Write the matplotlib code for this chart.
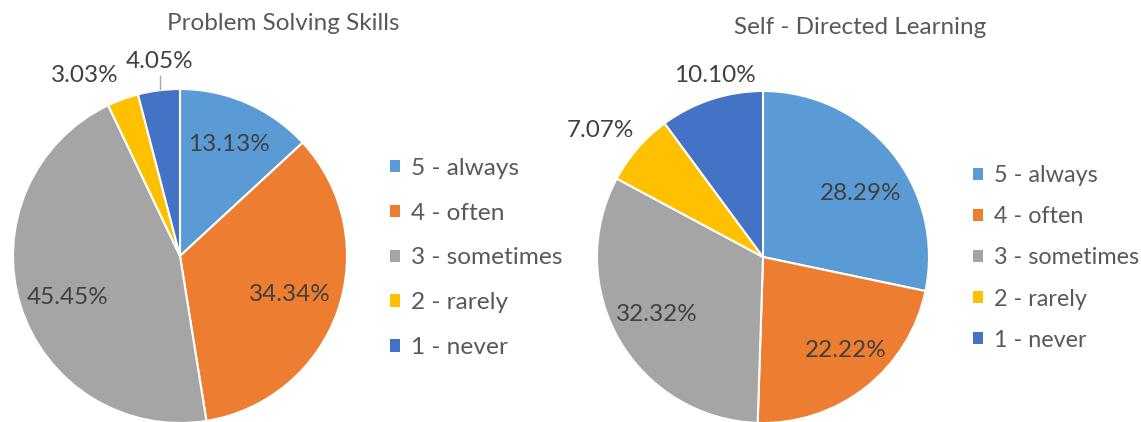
import numpy as np
import matplotlib
matplotlib.use("Agg")
import matplotlib.pyplot as plt
from matplotlib.patches import Patch

plt.rcParams['font.family'] = ['Lato', 'DejaVu Sans']

categories = ["5 - always", "4 - often", "3 - sometimes", "2 - rarely", "1 - never"]
problem_solving = [13.13, 34.34, 45.45, 3.03, 4.05]
self_directed = [28.29, 22.22, 32.32, 7.07, 10.10]
titles = ["Problem Solving Skills", "Self - Directed Learning"]
colors = ["#5B9BD5", "#ED7D31", "#A5A5A5", "#FFC000", "#4472C4"]

W, H = 1141, 422
fig = plt.figure(figsize=(W / 100, H / 100), dpi=100)

LABEL_C = "#404040"
TEXT_C = "#595959"

# layout (pixels): centre x, centre y, radius
pies = [
    dict(cx=180, cy=256, r=167,
         lab_r=[0.73, 0.70, 0.72, 1.22, 1.17],
         lab_da=[-0.2, -0.4, 3.1, 7.7, -1.4],
         title_xy=(283, 24),
         leg_xy=(390, 258), leg_fs=17.6, leg_sp=0.98, leader=4),
    dict(cx=763, cy=257, r=166,
         lab_r=[0.70, 0.75, 0.73, 1.24, 1.13],
         lab_da=[-6.1, 3.2, -1.5, 2.9, -3.4],
         title_xy=(860, 27),
         leg_xy=(973, 258), leg_fs=16.8, leg_sp=0.86, leader=None),
]

for vals, cfg, title in zip([problem_solving, self_directed], pies, titles):
    cx, cy, r = cfg["cx"], cfg["cy"], cfg["r"]
    ax = fig.add_axes([(cx - r) / W, (H - cy - r) / H, 2 * r / W, 2 * r / H])
    wedges, _ = ax.pie(vals, colors=colors, startangle=90, counterclock=False,
                       radius=1, wedgeprops=dict(edgecolor="white", linewidth=1.5))
    ax.set_xlim(-1, 1)
    ax.set_ylim(-1, 1)
    ax.set_aspect("equal")
    ax.axis("off")
    for i, (w, v) in enumerate(zip(wedges, vals)):
        mid = np.deg2rad((w.theta1 + w.theta2) / 2 + cfg["lab_da"][i])
        rr = cfg["lab_r"][i]
        x, y = rr * np.cos(mid), rr * np.sin(mid)
        ax.text(x, y, f"{v:.2f}%", ha="center", va="center", fontsize=17.5,
                color=LABEL_C, clip_on=False)
        if cfg["leader"] == i:
            edge_y = np.sqrt(1 - x ** 2)
            ax.plot([x, x], [edge_y + 0.005, y - 0.085], color="#A6A6A6",
                    lw=1.0, clip_on=False)
    fig.text(cfg["title_xy"][0] / W, 1 - cfg["title_xy"][1] / H, title,
             ha="center", va="center", fontsize=17.5, color=TEXT_C)
    handles = [Patch(facecolor=c, edgecolor="none") for c in colors]
    fs = cfg["leg_fs"]
    fig.legend(handles, categories, loc="center left",
               bbox_to_anchor=(cfg["leg_xy"][0] / W, 1 - cfg["leg_xy"][1] / H),
               frameon=False, fontsize=fs, labelcolor=TEXT_C,
               handlelength=8.0 / fs * 0.9, handleheight=8.0 / fs * 0.9,
               handletextpad=0.45,
               labelspacing=cfg["leg_sp"], borderpad=0, borderaxespad=0)

fig.savefig("out.png", dpi=100)
